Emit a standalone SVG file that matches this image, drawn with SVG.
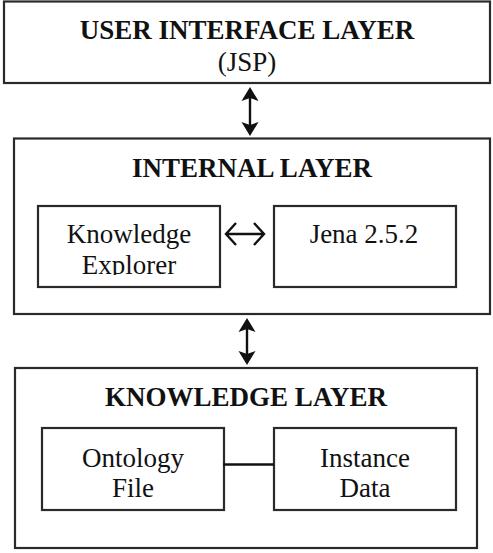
<svg xmlns="http://www.w3.org/2000/svg" width="493" height="553" viewBox="0 0 493 553">
<style>
.box{fill:#fff;stroke:#2a2a2a;stroke-width:2.2}
.ln{stroke:#111;stroke-width:2.4;fill:none}
.head{fill:#111}
</style>
<defs>
<clipPath id="clipKE"><rect x="38" y="206" width="182" height="69"/></clipPath>
</defs>
<rect width="493" height="553" fill="#fff"/>
<g font-family="Liberation Serif, serif" font-size="27" fill="#111" text-anchor="middle">
<g id="ui-layer">
<rect class="box" x="4" y="1.5" width="486" height="81.5"/>
<text font-weight="bold" x="247" y="39">USER INTERFACE LAYER</text>
<text x="247" y="71">(JSP)</text>
</g>
<g id="internal-layer">
<rect class="box" x="14" y="138.5" width="476" height="175.5"/>
<text font-weight="bold" x="252" y="177">INTERNAL LAYER</text>
</g>
<g id="knowledge-explorer">
<rect class="box" x="38" y="206" width="182" height="81"/>
<text x="129" y="243">Knowledge</text>
<text x="129" y="274" clip-path="url(#clipKE)">Explorer</text>
</g>
<g id="jena">
<rect class="box" x="274" y="206" width="182" height="81"/>
<text x="364" y="243">Jena 2.5.2</text>
</g>
<g id="knowledge-layer">
<rect class="box" x="15" y="368" width="462" height="180"/>
<text font-weight="bold" x="246" y="406">KNOWLEDGE LAYER</text>
</g>
<g id="ontology-file">
<rect class="box" x="42" y="428" width="182" height="82"/>
<text x="133" y="467">Ontology</text>
<text x="133" y="497">File</text>
</g>
<g id="instance-data">
<rect class="box" x="274" y="428" width="182" height="82"/>
<text x="365" y="467">Instance</text>
<text x="365" y="497">Data</text>
</g>
</g>
<g id="connectors">
<line class="ln" x1="250" y1="97" x2="250" y2="125"/>
<path class="head" d="M250,87 L258.5,101 L250,98 L241.5,101 Z"/>
<path class="head" d="M250,136 L258.5,122 L250,125 L241.5,122 Z"/>
<line class="ln" x1="247" y1="328" x2="247" y2="355"/>
<path class="head" d="M247,318 L255.5,332 L247,329 L238.5,332 Z"/>
<path class="head" d="M247,365 L255.5,351 L247,354 L238.5,351 Z"/>
<path class="ln" stroke-width="2" d="M226,234 L264,234 M236,223 L226,234 L236,245 M254,223 L264,234 L254,245"/>
<line class="ln" stroke-width="2.2" x1="223" y1="464.5" x2="274" y2="464.5"/>
</g>
</svg>
